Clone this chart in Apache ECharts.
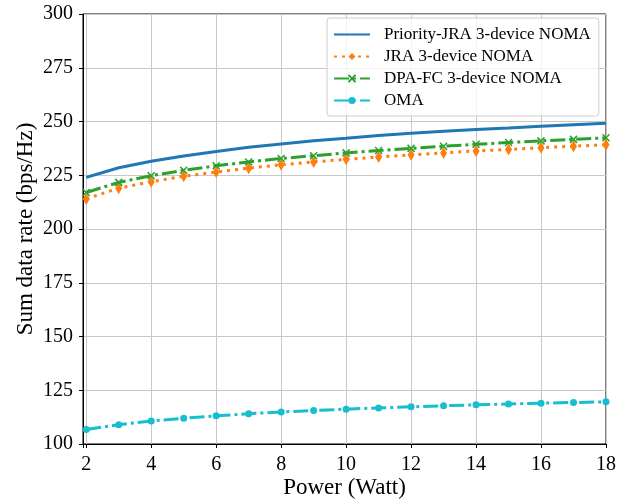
<!DOCTYPE html>
<html>
<head>
<meta charset="utf-8">
<script src="https://cdn.jsdelivr.net/npm/echarts@6/dist/echarts.min.js"></script>
<style>
  html, body { margin: 0; padding: 0; background: #fff; }
  #main { width: 631px; height: 502px; }
</style>
</head>
<body>
<div id="main"></div>
<script>
var power = [2, 3, 4, 5, 6, 7, 8, 9, 10, 11, 12, 13, 14, 15, 16, 17, 18];
var priorityJRA = [224, 228.5, 231.5, 234, 236, 238, 239.5, 241, 242.2, 243.5, 244.5, 245.5, 246.3, 247, 247.8, 248.5, 249.2];
var jra = [214, 219, 222, 224.5, 226.5, 228.3, 229.9, 231.2, 232.4, 233.5, 234.5, 235.4, 236.3, 237, 237.8, 238.5, 239.2];
var dpafc = [217, 221.7, 224.8, 227.3, 229.4, 231.2, 232.8, 234.1, 235.4, 236.5, 237.5, 238.5, 239.4, 240.2, 241, 241.7, 242.4];
var oma = [106.7, 109, 110.7, 112, 113.1, 114.1, 114.9, 115.6, 116.2, 116.8, 117.3, 117.8, 118.2, 118.6, 119, 119.3, 119.6];

function pairs(ys) {
  return power.map(function (x, i) { return [x, ys[i]]; });
}

var font = '"Liberation Serif", "Times New Roman", serif';
// thin bar with invisible corner points so the legend keeps it flat
var flatIcon = 'path://M0,0L0.01,0L0,0.01ZM0,4.6L10,4.6L10,5.4L0,5.4ZM10,10L9.99,10L10,9.99Z';
var chart = echarts.init(document.getElementById('main'));
chart.setOption({
  animation: false,
  textStyle: { fontFamily: font },
  grid: {
    left: 83, right: 25, top: 14, bottom: 58,
    outerBoundsMode: 'none', containLabel: false,
    show: true, borderColor: '#000', borderWidth: 1
  },
  legend: {
    left: 327, top: 18,
    orient: 'vertical',
    itemWidth: 36, itemHeight: 9, itemGap: 5,
    padding: [8, 8, 7, 6],
    borderColor: '#ccc', borderWidth: 1, borderRadius: 3,
    backgroundColor: 'rgba(255,255,255,0.8)',
    textStyle: { fontFamily: font, fontSize: 17, color: '#000', padding: [0, 0, 0, 9] },
    data: ['Priority-JRA 3-device NOMA', 'JRA 3-device NOMA', 'DPA-FC 3-device NOMA', 'OMA']
  },
  xAxis: {
    type: 'value', min: 1.9, max: 18, splitNumber: 8,
    name: 'Power (Watt)', nameLocation: 'middle', nameGap: 32, nameMoveOverlap: false,
    nameTextStyle: { fontFamily: font, fontSize: 23, color: '#000' },
    axisLine: { show: true, lineStyle: { color: '#000' } },
    axisTick: { show: true, inside: false, length: 4, lineStyle: { color: '#000' } },
    axisLabel: {
      fontFamily: font, fontSize: 20, color: '#000', margin: 11,
      showMinLabel: true, showMaxLabel: true,
      formatter: function (v) { return (Math.abs(v - Math.round(v)) < 1e-6) ? String(Math.round(v)) : ''; }
    },
    splitLine: { show: true, lineStyle: { color: '#c8c8c8', width: 1 } }
  },
  yAxis: {
    type: 'value', min: 100, max: 300, interval: 25,
    name: 'Sum data rate (bps/Hz)', nameLocation: 'middle', nameGap: 46, nameMoveOverlap: false,
    nameTextStyle: { fontFamily: font, fontSize: 23, color: '#000' },
    axisLine: { show: true, lineStyle: { color: '#000' } },
    axisTick: { show: true, inside: false, length: 4, lineStyle: { color: '#000' } },
    axisLabel: { fontFamily: font, fontSize: 20, color: '#000', margin: 10 },
    splitLine: { show: true, lineStyle: { color: '#c8c8c8', width: 1 } }
  },
  series: [
    {
      name: 'Priority-JRA 3-device NOMA', type: 'line', data: pairs(priorityJRA),
      showSymbol: false, symbol: flatIcon,
      lineStyle: { color: '#1f77b4', width: 3 },
      itemStyle: { color: '#1f77b4' }
    },
    {
      name: 'JRA 3-device NOMA', type: 'line', data: pairs(jra),
      symbol: 'diamond', symbolSize: [7, 12],
      lineStyle: { color: '#ff7f0e', width: 3, type: [3, 5], cap: 'butt' },
      itemStyle: { color: '#ff7f0e' }
    },
    {
      name: 'DPA-FC 3-device NOMA', type: 'line', data: pairs(dpafc),
      symbol: 'path://M0,0L10,10M10,0L0,10', symbolSize: 7,
      lineStyle: { color: '#2ca02c', width: 3, type: [15, 4, 3, 4], cap: 'butt' },
      itemStyle: { color: 'none', borderColor: '#2ca02c', borderWidth: 1.5 }
    },
    {
      name: 'OMA', type: 'line', data: pairs(oma),
      symbol: 'circle', symbolSize: 7,
      lineStyle: { color: '#17becf', width: 3, type: [15, 4, 3, 4], cap: 'butt' },
      itemStyle: { color: '#17becf' }
    }
  ]
});
</script>
</body>
</html>
